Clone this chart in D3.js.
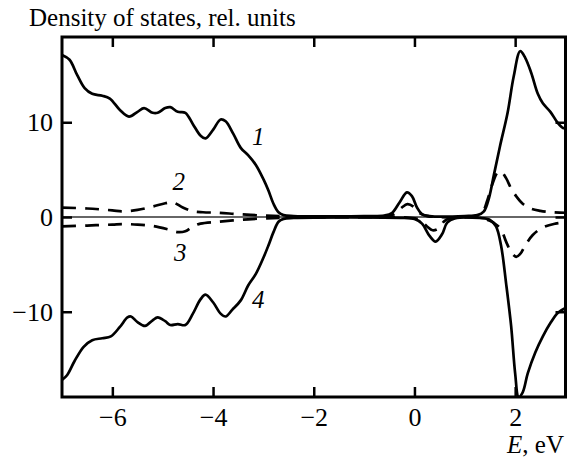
<!DOCTYPE html>
<html><head><meta charset="utf-8">
<script src="https://cdn.jsdelivr.net/npm/d3@7"></script>
<style>
html,body{margin:0;padding:0;background:#fff;}
svg{display:block;font-family:"Liberation Serif","Times New Roman",serif;}
</style></head>
<body><div id="chart"></div>
<script>
// Energy grid + values for each curve
const curve1 = [
[-7.0,17.1],[-6.85,16.6],[-6.7,15.0],[-6.55,13.6],[-6.4,13.0],[-6.2,12.8],[-6.05,12.5],
[-5.85,11.3],[-5.67,10.6],[-5.5,11.1],[-5.37,11.5],[-5.2,11.0],[-5.1,11.0],[-4.95,11.5],
[-4.85,11.6],[-4.7,11.1],[-4.55,11.0],[-4.4,9.8],[-4.25,8.6],[-4.15,8.3],[-4.0,9.2],
[-3.85,10.3],[-3.75,10.1],[-3.6,8.8],[-3.45,7.3],[-3.3,6.5],[-3.15,5.5],[-3.0,4.0],
[-2.9,2.8],[-2.8,1.4],[-2.7,0.5],[-2.6,0.2],[-2.4,0.1],[-1.0,0.1],[-0.6,0.15],[-0.45,0.4],
[-0.3,1.5],[-0.15,2.6],[-0.05,2.2],[0.05,1.0],[0.15,0.3],[0.3,0.1],[1.0,0.1],[1.25,0.2],
[1.38,0.6],[1.48,2.0],[1.58,4.5],[1.7,7.5],[1.85,11.0],[1.97,14.8],[2.1,17.5],[2.2,16.8],
[2.32,15.2],[2.45,13.0],[2.55,12.0],[2.7,11.1],[2.85,9.9],[2.95,9.4],[3.0,9.4]
];
const curve2 = [
[-7.0,1.0],[-6.5,0.9],[-6.0,0.7],[-5.8,0.6],[-5.5,0.75],[-5.2,1.1],[-4.95,1.45],[-4.8,1.55],
[-4.6,1.0],[-4.4,0.6],[-4.2,0.5],[-3.9,0.45],[-3.5,0.3],[-3.0,0.15],[-2.6,0.08],[-0.6,0.08],
[-0.4,0.3],[-0.25,1.0],[-0.14,1.35],[-0.02,1.1],[0.1,0.4],[0.25,0.1],[1.2,0.1],[1.35,0.5],
[1.45,1.8],[1.55,3.5],[1.65,4.7],[1.72,4.8],[1.82,4.1],[1.92,3.0],[2.02,2.2],[2.15,1.4],
[2.3,0.9],[2.5,0.65],[2.75,0.5],[3.0,0.45]
];
const curve3 = [
[-7.0,-1.0],[-6.5,-0.9],[-6.0,-0.8],[-5.8,-0.75],[-5.5,-0.8],[-5.2,-0.95],[-4.9,-1.3],
[-4.7,-1.6],[-4.55,-1.5],[-4.4,-1.0],[-4.25,-0.7],[-3.9,-0.5],[-3.45,-0.3],[-3.0,-0.15],
[-2.6,-0.08],[-0.1,-0.08],[0.1,-0.3],[0.25,-1.0],[0.36,-1.4],[0.48,-1.2],[0.6,-0.4],
[0.75,-0.1],[1.3,-0.1],[1.5,-0.4],[1.62,-0.8],[1.72,-1.3],[1.82,-2.6],[1.92,-3.7],
[2.02,-4.2],[2.1,-3.9],[2.2,-3.0],[2.35,-1.9],[2.55,-1.1],[2.8,-0.7],[3.0,-0.55]
];
const curve4 = [
[-7.0,-17.2],[-6.9,-16.7],[-6.75,-15.2],[-6.57,-13.7],[-6.4,-13.0],[-6.2,-12.8],[-6.03,-12.6],
[-5.85,-11.6],[-5.7,-10.6],[-5.63,-10.5],[-5.5,-11.1],[-5.35,-11.5],[-5.2,-10.9],[-5.1,-10.6],
[-4.95,-11.0],[-4.85,-11.4],[-4.7,-11.3],[-4.55,-11.4],[-4.4,-10.2],[-4.25,-8.7],[-4.15,-8.2],
[-4.0,-9.0],[-3.85,-10.2],[-3.75,-10.5],[-3.62,-9.8],[-3.45,-8.8],[-3.3,-7.2],[-3.15,-6.0],
[-3.0,-4.3],[-2.9,-3.0],[-2.8,-1.6],[-2.7,-0.5],[-2.6,-0.2],[-2.4,-0.1],[-0.2,-0.1],[0.0,-0.2],
[0.15,-0.7],[0.3,-2.0],[0.42,-2.6],[0.55,-1.8],[0.65,-0.6],[0.8,-0.15],[1.3,-0.1],[1.5,-0.3],
[1.62,-1.0],[1.72,-3.0],[1.82,-7.0],[1.92,-11.5],[2.0,-16.5],[2.07,-19.0],[2.15,-18.5],
[2.25,-16.5],[2.4,-14.3],[2.55,-12.6],[2.7,-11.2],[2.85,-10.1],[3.0,-9.6]
];
const xTicks = [-6,-4,-2,0,2];
const yTicks = [-10,0,10];
const curveLabels = [
  {text:"1", E:-3.1, v:8.5},
  {text:"2", E:-4.68, v:3.7},
  {text:"3", E:-4.65, v:-3.75},
  {text:"4", E:-3.1, v:-8.75}
];
const yTitle = "Density of states, rel. units";

const W = 572, H = 457;
const m = {left:62, right:6.5, top:37, bottom:60};
const svg = d3.select("#chart").append("svg").attr("width",W).attr("height",H);

const x = d3.scaleLinear().domain([-7,3]).range([m.left, W-m.right]);
const y = d3.scaleLinear().domain([-19,19]).range([H-m.bottom, m.top]);

svg.append("defs").append("clipPath").attr("id","clip")
  .append("rect").attr("x",m.left).attr("y",m.top)
  .attr("width",x.range()[1]-m.left).attr("height",y.range()[0]-m.top);

// zero line
svg.append("line").attr("x1",m.left).attr("x2",x.range()[1])
  .attr("y1",y(0)).attr("y2",y(0)).attr("stroke","#333").attr("stroke-width",1.3);

const line = d3.line().x(d=>x(d[0])).y(d=>y(d[1])).curve(d3.curveCatmullRom.alpha(0.5));
const g = svg.append("g").attr("clip-path","url(#clip)");
const series = [
  {data:curve1, dash:null},
  {data:curve4, dash:null},
  {data:curve2, dash:"14,9"},
  {data:curve3, dash:"14,9"}
];
series.forEach(s=>{
  g.append("path").attr("d",line(s.data)).attr("fill","none")
   .attr("stroke","#000").attr("stroke-width",2.7)
   .attr("stroke-linejoin","round")
   .attr("stroke-dasharray",s.dash);
});

// axes with inward ticks
const tl = 10;
const axB = d3.axisBottom(x).tickValues(xTicks).tickSizeInner(-tl).tickSizeOuter(0)
  .tickFormat(d=>d<0?"\u2212"+Math.abs(d):d).tickPadding(11);
const axT = d3.axisTop(x).tickValues(xTicks).tickSizeInner(-tl).tickSizeOuter(0).tickFormat("");
const axL = d3.axisLeft(y).tickValues(yTicks).tickSizeInner(-tl).tickSizeOuter(0)
  .tickFormat(d=>d<0?"\u2212"+Math.abs(d):d).tickPadding(9);
const axR = d3.axisRight(y).tickValues(yTicks).tickSizeInner(-tl).tickSizeOuter(0).tickFormat("");

function style(sel){
  sel.select(".domain").remove();
  sel.selectAll(".tick line").attr("stroke","#000").attr("stroke-width",2.5);
  sel.selectAll(".tick text").attr("fill","#000").attr("font-size",26)
    .attr("font-family","Liberation Serif, Times New Roman, serif");
}
svg.append("g").attr("transform",`translate(0,${y.range()[0]})`).call(axB).call(style);
svg.append("g").attr("transform",`translate(0,${m.top})`).call(axT).call(style);
svg.append("g").attr("transform",`translate(${m.left},0)`).call(axL).call(style);
svg.append("g").attr("transform",`translate(${x.range()[1]},0)`).call(axR).call(style);

// frame
svg.append("rect").attr("x",m.left).attr("y",m.top)
  .attr("width",x.range()[1]-m.left).attr("height",y.range()[0]-m.top)
  .attr("fill","none").attr("stroke","#000").attr("stroke-width",3);

// curve labels
svg.selectAll("text.cl").data(curveLabels).enter().append("text")
  .attr("class","cl").attr("x",d=>x(d.E)).attr("y",d=>y(d.v))
  .attr("text-anchor","middle").attr("dominant-baseline","central")
  .attr("font-style","italic").attr("font-size",25).text(d=>d.text);

// titles
svg.append("text").attr("x",29).attr("y",26).attr("font-size",25).text(yTitle);
const xt = svg.append("text").attr("x",564).attr("y",453).attr("text-anchor","end").attr("font-size",25);
xt.append("tspan").attr("font-style","italic").text("E");
xt.append("tspan").text(", eV");
</script></body></html>
